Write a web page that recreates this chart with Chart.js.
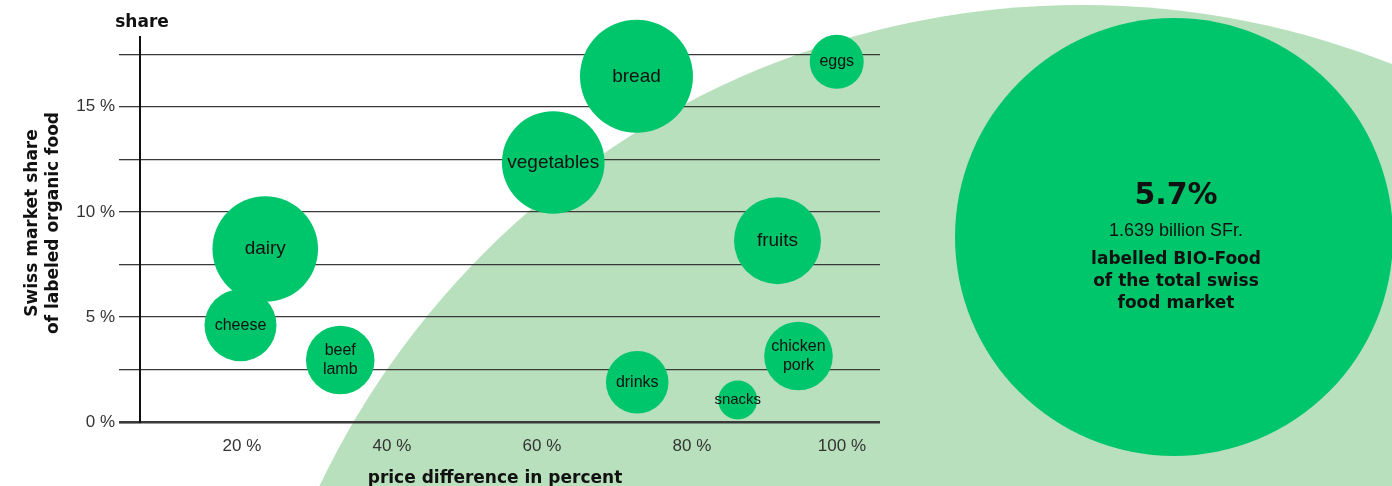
<!DOCTYPE html>
<html>
<head>
<meta charset="utf-8">
<script src="https://cdn.jsdelivr.net/npm/chart.js@4/dist/chart.umd.min.js"></script>
<style>
  html, body { margin: 0; padding: 0; background: #ffffff; }
  #wrap { position: relative; width: 1392px; height: 486px; }
</style>
</head>
<body>
<div id="wrap"><canvas id="c"></canvas></div>
<script>
// ---- data ----
const categories = [['dairy'], ['cheese'], ['beef', 'lamb'], ['vegetables'], ['bread'], ['eggs'], ['fruits'], ['chicken', 'pork'], ['drinks'], ['snacks']];
const priceDifference = [23.1, 19.8, 33.1, 61.5, 72.6, 99.3, 91.4, 94.2, 72.7, 86.1];
const marketShare = [8.23, 4.6, 2.95, 12.35, 16.45, 17.14, 8.63, 3.14, 1.89, 1.05];
const bubbleSize = [52.8, 36, 34.3, 51.3, 56.5, 27, 43.5, 34.3, 31.3, 19.5];
const yTickValues = [0, 2.5, 5, 7.5, 10, 12.5, 15, 17.5];
const xTickValues = [20, 40, 60, 80, 100];
const yAxisTitle = ['Swiss market share', 'of labeled organic food'];
const yTopTitle = 'share';
const xAxisTitle = 'price difference in percent';
const totalShare = '5.7%';
const totalValue = '1.639 billion SFr.';
const totalDescription = ['labelled BIO-Food', 'of the total swiss', 'food market'];

const GREEN = '#00c66b';
const LIGHT = '#b8e0bc';
const BOLD = '"DejaVu Sans", sans-serif';
const REG = '"Liberation Sans", Arial, sans-serif';

const points = priceDifference.map((x, i) => ({ x: x, y: marketShare[i], r: bubbleSize[i] }));

const decor = {
  id: 'decor',
  beforeDraw(chart) {
    const ctx = chart.ctx;
    ctx.save();
    ctx.fillStyle = LIGHT;
    ctx.beginPath();
    ctx.arc(1082, 850, 845, 0, Math.PI * 2);
    ctx.fill();
    ctx.restore();
  },
  afterDatasetsDraw(chart) {
    const ctx = chart.ctx;
    const meta = chart.getDatasetMeta(0);
    ctx.save();
    ctx.fillStyle = '#111';
    ctx.textAlign = 'center';
    ctx.textBaseline = 'middle';
    meta.data.forEach((el, i) => {
      const lines = categories[i];
      const r = bubbleSize[i];
      const fs = r > 40 ? 19 : (r > 25 ? 16 : 15);
      ctx.font = fs + 'px ' + REG;
      const lh = 18.5;
      const y0 = el.y - (lines.length - 1) * lh / 2;
      lines.forEach((t, k) => ctx.fillText(t, el.x, y0 + k * lh));
    });
    ctx.restore();
  },
  afterDraw(chart) {
    const ctx = chart.ctx;
    ctx.save();
    // big circle
    ctx.fillStyle = GREEN;
    ctx.beginPath();
    ctx.arc(1174, 237, 219, 0, Math.PI * 2);
    ctx.fill();
    ctx.fillStyle = '#111';
    ctx.textAlign = 'center';
    ctx.textBaseline = 'middle';
    ctx.font = 'bold 30px ' + BOLD;
    ctx.fillText(totalShare, 1176, 196);
    ctx.font = '18px ' + REG;
    ctx.fillText(totalValue, 1176, 231);
    ctx.font = 'bold 17px ' + BOLD;
    totalDescription.forEach((t, k) => ctx.fillText(t, 1176, 260 + k * 22));

    // titles
    ctx.textBaseline = 'alphabetic';
    ctx.font = 'bold 17px ' + BOLD;
    ctx.fillText(yTopTitle, 142, 27);
    ctx.fillText(xAxisTitle, 495, 483);
    const ys = [37, 58];
    yAxisTitle.forEach((t, k) => {
      ctx.save();
      ctx.translate(ys[k], 223);
      ctx.rotate(-Math.PI / 2);
      ctx.fillText(t, 0, 0);
      ctx.restore();
    });
    ctx.restore();
  }
};

new Chart(document.getElementById('c'), {
  type: 'bubble',
  data: {
    datasets: [{
      data: points,
      backgroundColor: GREEN,
      borderWidth: 0,
      hoverBorderWidth: 0,
      clip: false
    }]
  },
  options: {
    responsive: true,
    maintainAspectRatio: false,
    animation: false,
    events: [],
    layout: { autoPadding: false, padding: { left: 0, top: 37, right: 512, bottom: 0 } },
    plugins: { legend: { display: false }, tooltip: { enabled: false } },
    scales: {
      x: {
        type: 'linear',
        min: 6.4,
        max: 105.07,
        afterFit(scale) { scale.height = 64; scale.paddingLeft = 0; scale.paddingRight = 0; },
        afterBuildTicks(scale) { scale.ticks = xTickValues.map(v => ({ value: v })); },
        grid: { display: false, drawTicks: false },
        border: { display: false },
        ticks: {
          padding: 14,
          color: '#333',
          font: { family: REG, size: 17 },
          maxRotation: 0,
          autoSkip: false,
          callback: v => v + ' %'
        }
      },
      y: {
        type: 'linear',
        min: 0,
        max: 18.32,
        afterFit(scale) { scale.width = 140; scale.paddingTop = 0; scale.paddingBottom = 0; },
        afterBuildTicks(scale) { scale.ticks = yTickValues.map(v => ({ value: v })); },
        grid: {
          color: '#3a3a3a',
          lineWidth: ctx => (ctx.tick && ctx.tick.value === 0 ? 2.6 : 1.3),
          tickLength: 21,
          drawTicks: true
        },
        border: { display: true, color: '#111', width: 2 },
        ticks: {
          padding: 4,
          color: '#333',
          font: { family: REG, size: 17 },
          autoSkip: false,
          callback: v => (v % 5 === 0 ? v + ' %' : '')
        }
      }
    }
  },
  plugins: [decor]
});
</script>
</body>
</html>
